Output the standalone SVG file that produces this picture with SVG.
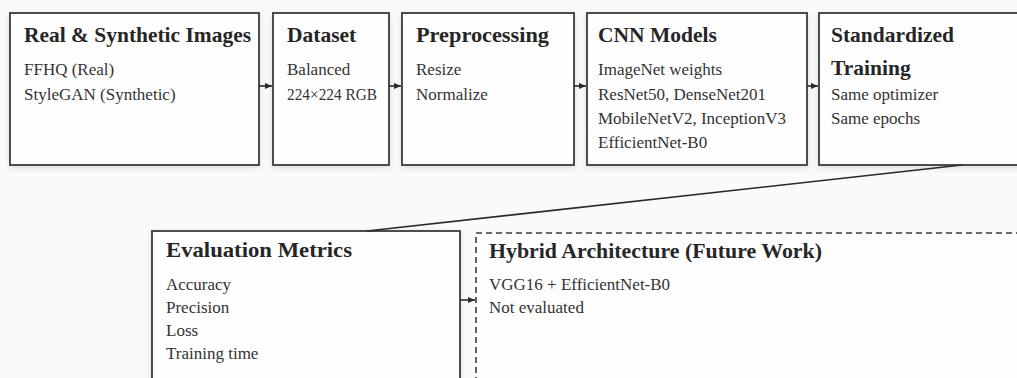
<svg xmlns="http://www.w3.org/2000/svg" width="1017" height="378" viewBox="0 0 1017 378">
<style>
.box{fill:#fefefe;stroke:#3a3a3a;stroke-width:1.8}
.dash{fill:#fefefe;stroke:#3a3a3a;stroke-width:1.6;stroke-dasharray:6 4}
.t{font-family:"Liberation Serif","DejaVu Serif",serif;font-weight:bold;font-size:21.5px;fill:#262626}
.b{font-family:"Liberation Serif","DejaVu Serif",serif;font-size:17px;fill:#333}
.c{stroke:#2a2a2a;stroke-width:1.6;fill:none}
</style>
<defs>
<marker id="ah" markerWidth="8" markerHeight="8" refX="7" refY="4" orient="auto" markerUnits="userSpaceOnUse">
<path d="M0,1 L7,4 L0,7 Z" fill="#2a2a2a"/>
</marker>
<filter id="sh" x="-5%" y="-5%" width="110%" height="115%">
<feGaussianBlur in="SourceAlpha" stdDeviation="3"/>
<feOffset dy="2"/>
<feComponentTransfer><feFuncA type="linear" slope="0.12"/></feComponentTransfer>
<feMerge><feMergeNode/><feMergeNode in="SourceGraphic"/></feMerge>
</filter>
</defs>
<rect width="1017" height="378" fill="#fafafa"/>
<g id="n1">
<rect class="box" x="10" y="13" width="249" height="152" filter="url(#sh)"/>
<text class="t" x="24" y="42" textLength="227" lengthAdjust="spacingAndGlyphs">Real &amp; Synthetic Images</text>
<text class="b" x="24" y="75">FFHQ (Real)</text>
<text class="b" x="24" y="100">StyleGAN (Synthetic)</text>
</g>
<g id="n2">
<rect class="box" x="273" y="13" width="116" height="152" filter="url(#sh)"/>
<text class="t" x="287" y="42">Dataset</text>
<text class="b" x="287" y="75">Balanced</text>
<text class="b" x="287" y="100" textLength="90" lengthAdjust="spacingAndGlyphs">224×224 RGB</text>
</g>
<g id="n3">
<rect class="box" x="402" y="13" width="172" height="152" filter="url(#sh)"/>
<text class="t" x="416" y="42" textLength="133" lengthAdjust="spacingAndGlyphs">Preprocessing</text>
<text class="b" x="416" y="75">Resize</text>
<text class="b" x="416" y="100">Normalize</text>
</g>
<g id="n4">
<rect class="box" x="587" y="13" width="220" height="152" filter="url(#sh)"/>
<text class="t" x="598" y="42">CNN Models</text>
<text class="b" x="598" y="75">ImageNet weights</text>
<text class="b" x="598" y="100">ResNet50, DenseNet201</text>
<text class="b" x="598" y="124">MobileNetV2, InceptionV3</text>
<text class="b" x="598" y="148">EfficientNet-B0</text>
</g>
<g id="n5">
<rect class="box" x="819" y="13" width="220" height="152" filter="url(#sh)"/>
<text class="t" x="831" y="42">Standardized</text>
<text class="t" x="831" y="75">Training</text>
<text class="b" x="831" y="100">Same optimizer</text>
<text class="b" x="831" y="124">Same epochs</text>
</g>
<g id="n6">
<rect class="box" x="152" y="231" width="308" height="170" filter="url(#sh)"/>
<text class="t" x="166" y="257" textLength="186" lengthAdjust="spacingAndGlyphs">Evaluation Metrics</text>
<text class="b" x="166" y="290">Accuracy</text>
<text class="b" x="166" y="313">Precision</text>
<text class="b" x="166" y="336">Loss</text>
<text class="b" x="166" y="359">Training time</text>
</g>
<g id="n7">
<rect class="dash" x="476" y="233" width="560" height="170"/>
<text class="t" x="489" y="258" textLength="333" lengthAdjust="spacingAndGlyphs">Hybrid Architecture (Future Work)</text>
<text class="b" x="489" y="290">VGG16 + EfficientNet-B0</text>
<text class="b" x="489" y="313">Not evaluated</text>
</g>
<g id="connectors">
<line class="c" x1="259" y1="86" x2="272" y2="86" marker-end="url(#ah)"/>
<line class="c" x1="389" y1="86" x2="401" y2="86" marker-end="url(#ah)"/>
<line class="c" x1="574" y1="86" x2="586" y2="86" marker-end="url(#ah)"/>
<line class="c" x1="807" y1="86" x2="818" y2="86" marker-end="url(#ah)"/>
<line class="c" x1="962" y1="165" x2="367" y2="231"/>
<line class="c" x1="460" y1="300" x2="475" y2="300" marker-end="url(#ah)"/>
</g>
</svg>
